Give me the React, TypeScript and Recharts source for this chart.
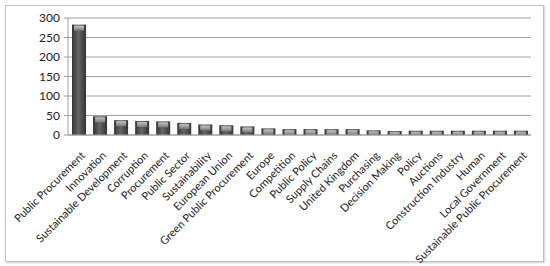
import React from "react";
import { BarChart, Bar, XAxis, YAxis, CartesianGrid } from "recharts";

const categories = [
  "Public Procurement", "Innovation", "Sustainable Development", "Corruption", "Procurement",
  "Public Sector", "Sustainability", "European Union", "Green Public Procurement", "Europe",
  "Competition", "Public Policy", "Supply Chains", "United Kingdom", "Purchasing",
  "Decision Making", "Policy", "Auctions", "Construction Industry", "Human",
  "Local Government", "Sustainable Public Procurement",
];
const counts = [283, 48, 38, 36, 35, 31, 27, 25, 22, 17, 15, 15, 15, 15, 12, 10, 11, 11, 11, 11, 11, 11];
const yTicks = [0, 50, 100, 150, 200, 250, 300];

const data = categories.map((name, i) => ({ name, value: counts[i] }));

const FONT = "Lato, 'Open Sans', sans-serif";
const GRID = "#a0a0a0";

// cylinder-ish bar: dark edges, lighter middle, pale bevel on top
function BevelBar(props: any) {
  const { x, y, width, height } = props;
  if (!height || height <= 0) return null;
  const cap = Math.min(5, height - 1);
  return (
    <g>
      <rect x={x} y={y} width={width} height={height} fill="url(#barBody)" />
      {cap > 1 && (
        <rect x={x + 2} y={y + 1} width={width - 4} height={cap} fill="url(#barCap)" />
      )}
    </g>
  );
}

function AngledTick(props: any) {
  const { x, y, payload } = props;
  const tx = x + 4;
  const ty = y + 10;
  return (
    <text
      x={tx}
      y={ty}
      transform={`rotate(-45, ${tx}, ${ty})`}
      textAnchor="end"
      dominantBaseline="central"
      fontSize={11}
      fontFamily={FONT}
      fill="#222"
    >
      {payload.value}
    </text>
  );
}

export default function App() {
  return (
    <div style={{ position: "relative", width: 550, height: 266, background: "#fff" }}>
      <style>{"body{margin:0}"}</style>
      <div
        style={{
          position: "absolute", left: 5, top: 5, width: 537, height: 255,
          border: "1px solid #bdbdbd", boxShadow: "1px 1px 2px #d0d0d0",
        }}
      />
      <BarChart
        width={550}
        height={266}
        data={data}
        margin={{ top: 18, right: 19, bottom: 0, left: 28 }}
        style={{ position: "absolute", left: 0, top: 0 }}
      >
        <defs>
          <linearGradient id="barBody" x1="0" y1="0" x2="1" y2="0">
            <stop offset="0%" stopColor="#333" />
            <stop offset="45%" stopColor="#666" />
            <stop offset="100%" stopColor="#333" />
          </linearGradient>
          <linearGradient id="barCap" x1="0" y1="0" x2="0" y2="1">
            <stop offset="0%" stopColor="#c4c4c4" />
            <stop offset="100%" stopColor="#7a7a7a" />
          </linearGradient>
        </defs>
        <CartesianGrid stroke={GRID} vertical={false} />
        <XAxis
          dataKey="name"
          interval={0}
          tick={<AngledTick />}
          tickLine={false}
          axisLine={{ stroke: GRID }}
          height={131}
        />
        <YAxis
          domain={[0, 300]}
          ticks={yTicks}
          interval={0}
          width={40}
          tick={{ fill: "#222", fontSize: 12, fontFamily: FONT }}
          tickLine={{ stroke: GRID }}
          tickSize={4}
          tickMargin={4}
          axisLine={{ stroke: GRID }}
        />
        <Bar dataKey="value" barSize={14} shape={<BevelBar />} isAnimationActive={false} />
      </BarChart>
    </div>
  );
}
